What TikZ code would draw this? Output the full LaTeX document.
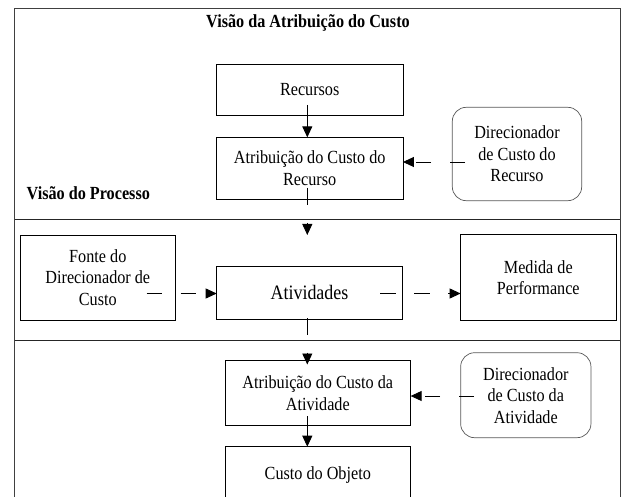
\documentclass[tikz,border=0pt]{standalone}
\usepackage{fontspec}
\setmainfont{Liberation Serif}[FakeStretch=0.875]
\usetikzlibrary{arrows.meta,calc}
\begin{document}
\begin{tikzpicture}[x=1pt,y=-1pt,
  every node/.style={inner sep=0pt,outer sep=0pt},
  txt/.style={font=\fontsize{18.5}{21.5}\selectfont,align=center},
  sqbox/.style={txt,draw=black,line width=0.9pt},
  rbox/.style={txt,draw=black!65,line width=0.7pt,rounded corners=14pt},
  frameline/.style={draw=black!75,line width=1pt},
  divider/.style={draw=black!85,line width=1.3pt},
  conn/.style={draw=black,line width=0.9pt},
  arr/.style={conn,-{Triangle[length=11pt,width=10pt]}},
  darr/.style={arr,dash pattern=on 15.5pt off 18.5pt}
]
\useasboundingbox (0,0) rectangle (621,497);
\fill[white] (0,0) rectangle (621,497);

% frame and section dividers
\draw[frameline] (14.5,505) -- (14.5,9) -- (620,9) -- (620,505);
\draw[divider] (14.5,219.5) -- (620,219.5);
\draw[divider] (14.5,340.5) -- (620,340.5);

% titles
\node[txt,font=\fontsize{18.5}{21.5}\selectfont\bfseries] (title) at (308,23) {Visão da Atribuição do Custo};
\node[txt,font=\fontsize{18.5}{21.5}\selectfont\bfseries,anchor=west] (proc) at (26.7,193.5) {Visão do Processo};

% boxes
\node[sqbox,minimum width=186.5pt,minimum height=51pt] (rec) at (309.7,89.5) {Recursos};
\node[sqbox,minimum width=186.5pt,minimum height=61.7pt] (atr1) at (309.7,168.2) {Atribuição do Custo do\\Recurso};
\node[rbox,minimum width=129.4pt,minimum height=93.4pt] (dir1) at (517,154) {Direcionador\\de Custo do\\Recurso};
\node[sqbox,minimum width=155.7pt,minimum height=85pt] (fonte) at (97.8,277.5) {Fonte do\\Direcionador de\\Custo};
\node[sqbox,minimum width=185.6pt,minimum height=53.3pt,font=\fontsize{20.5}{24}\selectfont] (ativ) at (309.5,292.7) {Atividades};
\node[sqbox,minimum width=155.3pt,minimum height=86.3pt] (med) at (538.3,277.5) {Medida de\\Performance};
\node[sqbox,minimum width=185.7pt,minimum height=65pt] (atr2) at (317.8,393.2) {Atribuição do Custo da\\Atividade};
\node[rbox,minimum width=130.3pt,minimum height=85pt] (dir2) at (525.8,395.2) {Direcionador\\de Custo da\\Atividade};
\node[sqbox,minimum width=185.7pt,minimum height=57pt] (obj) at (317.8,475.2) {Custo do Objeto};

% connector end points
\coordinate (vx) at (307.3,0);
\coordinate (s1) at (307.3,105);
\coordinate (s2) at (307.3,188);
\coordinate (e2) at (307.3,205);
\coordinate (a2s) at (307.3,223);
\coordinate (a2e) at (307.3,235);
\coordinate (s3) at (307.3,318);
\coordinate (e3) at (307.3,335);
\coordinate (a3s) at (307.3,352.5);
\coordinate (a3e) at (307.3,364.5);
\coordinate (s4) at (307.3,416);
\coordinate (d1) at (465,162);
\coordinate (d2) at (474,396);
\coordinate (f1) at (146.7,293.5);
\coordinate (f2) at (380,293.5);

% vertical connectors
\draw[arr] (s1) -- (atr1.north -| vx);
\draw[conn] (s2) -- (e2);
\draw[arr] (a2s) -- (a2e);
\draw[conn] (s3) -- (e3);
\draw[arr] (a3s) -- (a3e);
\draw[arr] (s4) -- (obj.north -| vx);

% dashed connectors
\draw[darr] (d1) -- (atr1.east |- d1);
\draw[darr] (f1) -- (ativ.west |- f1);
\draw[darr] (f2) -- (med.west |- f2);
\draw[darr] (d2) -- (atr2.east |- d2);
\end{tikzpicture}
\end{document}
